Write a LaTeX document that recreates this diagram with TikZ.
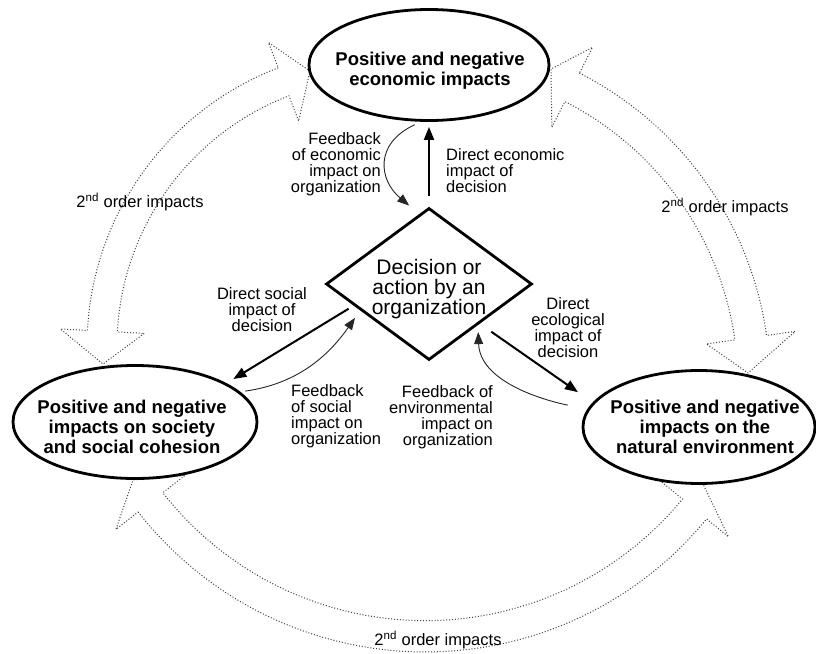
\documentclass[tikz,border=0pt]{standalone}
\usepackage{fontspec}
\setmainfont{Liberation Sans}
\usetikzlibrary{shapes.geometric,arrows.meta,calc}
\begin{document}
\begin{tikzpicture}[x=1pt,y=-1pt,
  ell/.style={ellipse, draw, line width=2.8pt, inner sep=0pt, fill=white},
  bigtxt/.style={font=\bfseries\fontsize{18.5}{20}\selectfont, align=center, inner sep=0pt},
  lbl/.style={font=\fontsize{16.5}{16}\selectfont, inner sep=0pt},
  direct/.style={line width=2pt, -{Triangle[length=13pt,width=10pt]}},
  fb/.style={line width=0.9pt, black!85, -{Triangle[length=12pt,width=9pt]}},
  bigarrow/.style={line width=1pt, black!75, dash pattern=on 1pt off 1.9pt, line join=round},
]
\fill[white] (0,0) rectangle (816,653);
\useasboundingbox (0,0) rectangle (816,653);

% ---------- big dotted double arrows ----------
% left arc
\coordinate (LO1) at ({385+298*cos(249)},{346+298*sin(249)});
\coordinate (LI1) at ({385+268*cos(249)},{346+268*sin(249)});
\coordinate (LO2) at ({385+298*cos(183)},{346+298*sin(183)});
\coordinate (LI2) at ({385+268*cos(183)},{346+268*sin(183)});
\coordinate (LT1) at (310,71);
\coordinate (LT2) at (103,364);
\draw[bigarrow] plot[domain=249:183, samples=40, variable=\t] ({385+298*cos(\t)},{346+298*sin(\t)})
  -- ($(LO2)!-0.9!(LI2)$) -- (LT2) -- ($(LI2)!-0.9!(LO2)$)
  -- plot[domain=183:249, samples=40, variable=\t] ({385+268*cos(\t)},{346+268*sin(\t)})
  -- ($(LI1)!-0.9!(LO1)$) -- (LT1) -- ($(LO1)!-0.9!(LI1)$) -- cycle;

% right arc
\coordinate (RO1) at ({421+349*cos(297)},{384+349*sin(297)});
\coordinate (RI1) at ({421+317*cos(297)},{384+317*sin(297)});
\coordinate (RO2) at ({421+349*cos(352)},{384+349*sin(352)});
\coordinate (RI2) at ({421+317*cos(352)},{384+317*sin(352)});
\coordinate (RT1) at (551,69);
\coordinate (RT2) at (748,373);
\draw[bigarrow] plot[domain=297:352, samples=40, variable=\t] ({421+349*cos(\t)},{384+349*sin(\t)})
  -- ($(RO2)!-0.9!(RI2)$) -- (RT2) -- ($(RI2)!-0.9!(RO2)$)
  -- plot[domain=352:297, samples=40, variable=\t] ({421+317*cos(\t)},{384+317*sin(\t)})
  -- ($(RI1)!-0.9!(RO1)$) -- (RT1) -- ($(RO1)!-0.9!(RI1)$) -- cycle;

% bottom arc
\coordinate (BO1) at ({425.2+364.3*cos(142)},{287.7+364.3*sin(142)});
\coordinate (BI1) at ({425.2+333*cos(142)},{287.7+333*sin(142)});
\coordinate (BO2) at ({425.2+364.3*cos(39.4)},{287.7+364.3*sin(39.4)});
\coordinate (BI2) at ({425.2+333*cos(39.4)},{287.7+333*sin(39.4)});
\coordinate (BT1) at (133,480);
\coordinate (BT2) at (703,484);
\draw[bigarrow] plot[domain=142:39.4, samples=50, variable=\t] ({425.2+364.3*cos(\t)},{287.7+364.3*sin(\t)})
  -- ($(BO2)!-0.9!(BI2)$) -- (BT2) -- ($(BI2)!-0.9!(BO2)$)
  -- plot[domain=39.4:142, samples=50, variable=\t] ({425.2+333*cos(\t)},{287.7+333*sin(\t)})
  -- ($(BI1)!-0.9!(BO1)$) -- (BT1) -- ($(BO1)!-0.9!(BI1)$) -- cycle;

% ---------- main nodes ----------
\node[ell, minimum width=240pt, minimum height=111pt] (eco) at (429,65) {};
\node[bigtxt] (ecot) at (430,71) {Positive and negative\\economic impacts};
\node[ell, minimum width=244pt, minimum height=113pt] (soc) at (135,422) {};
\node[bigtxt] (soct) at (132,427) {Positive and negative\\impacts on society\\and social cohesion};
\node[ell, minimum width=232pt, minimum height=113pt] (env) at (699,427) {};
\node[bigtxt] (envt) at (705,427) {Positive and negative\\impacts on the\\natural environment};

\node[diamond, draw, line width=2.8pt, minimum width=206pt, minimum height=152pt, inner sep=0pt] (dia) at (429,284) {};
\node[font=\fontsize{21}{20}\selectfont, align=center, inner sep=0pt] (diat) at (429,289) {Decision or\\action by an\\organization};

% ---------- connectors ----------
\draw[direct, shorten <=11pt, shorten >=5pt] (dia.north) -- (eco.south);
\draw[fb, shorten <=7pt, shorten >=13pt] (eco.262) to[out=205, in=140, looseness=1.45] (dia.98);
\draw[direct, shorten <=6pt, shorten >=8pt] (dia.196) -- (soc.23);
\draw[fb, shorten <=5pt, shorten >=9pt] (soc.16) to[out=8, in=235] (dia.201);
\draw[direct, shorten <=14pt, shorten >=18pt] (dia.322) -- (env.167);
\draw[fb, shorten <=20pt, shorten >=7pt] (env.171) to[out=168, in=272] (dia.320);

% ---------- labels ----------
\node[lbl, anchor=east, align=right] (fbeco) at (381,164) {Feedback\\of economic\\impact on\\organization};
\node[lbl, anchor=west, align=left] (direco) at (446,171) {Direct economic\\impact of\\decision};
\node[lbl, align=center] (dirsoc) at (262,310) {Direct social\\impact of\\decision};
\node[lbl, anchor=west, align=left] (fbsoc) at (291,416) {Feedback\\of social\\impact on\\organization};
\node[lbl, anchor=east, align=right] (fbenv) at (493,417) {Feedback of\\environmental\\impact on\\organization};
\node[lbl, align=center] (direnv) at (568,328) {Direct\\ecological\\impact of\\decision};

\node[lbl] (ord1) at (140,202) {2\textsuperscript{nd} order impacts};
\node[lbl] (ord2) at (725,207) {2\textsuperscript{nd} order impacts};
\node[lbl] (ord3) at (438,640) {2\textsuperscript{nd} order impacts};
\end{tikzpicture}
\end{document}
